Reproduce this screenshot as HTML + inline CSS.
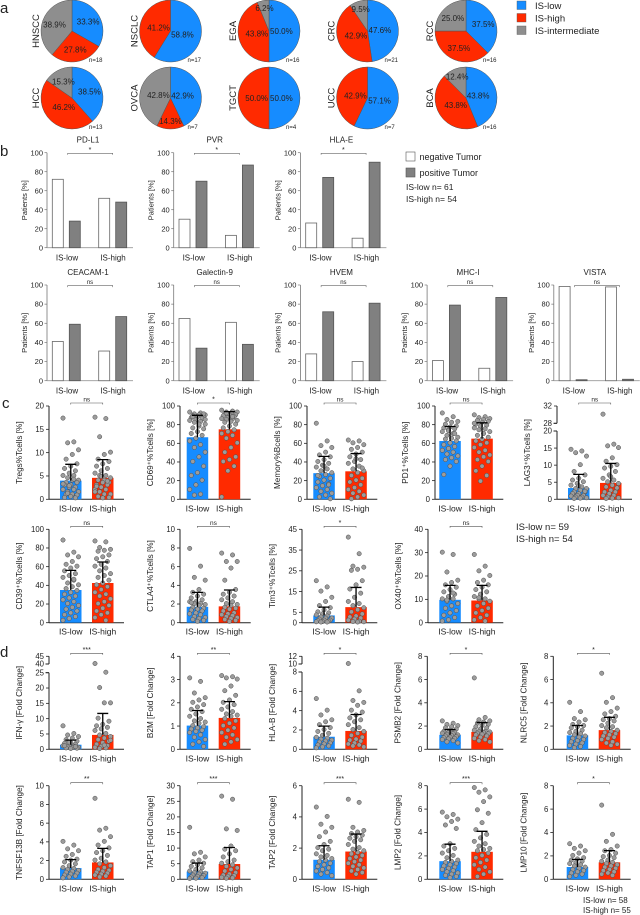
<!DOCTYPE html>
<html><head><meta charset="utf-8">
<style>
html,body{margin:0;padding:0;background:#fff;}
svg{display:block;font-family:"Liberation Sans",Arial,sans-serif;fill:#222;}
text{fill:#222;}
</style></head>
<body>
<svg id="fig" width="640" height="915" viewBox="0 0 640 915" xmlns="http://www.w3.org/2000/svg"></svg>
<script>
// ---------- Panel a data ----------
const pieNames=['HNSCC','NSCLC','EGA','CRC','RCC','HCC','OVCA','TGCT','UCC','BCA'];
const pieLow=[33.3,58.8,50.0,47.6,37.5,38.5,42.9,50.0,57.1,43.8];
const pieHigh=[27.8,41.2,43.8,42.9,37.5,46.2,14.3,50.0,42.9,43.8];
const pieInter=[38.9,0,6.2,9.5,25.0,15.3,42.8,0,0,12.4];
const pieN=[18,17,16,21,16,13,7,4,7,16];

// ---------- Panel b data ----------
const bMarkers=['PD-L1','PVR','HLA-E','CEACAM-1','Galectin-9','HVEM','MHC-I','VISTA'];
const bLowNeg=[72,30,26,41,65,28,21,98.5];
const bLowPos=[28,70,74,59,34,72,79,1];
const bHighNeg=[52,13,10,31,61,20,13,98];
const bHighPos=[48,87,90,67,38,81,87,1.5];
const bSig=['*','*','*','ns','ns','ns','ns','ns'];
const bTicks=[0,20,40,60,80,100];

// ---------- Panel c data ----------
const tregLow=[17.3,12.2,12,10.5,9.5,8.5,7.5,7,6.5,6,5.5,5,5,4.5,4,4,3.5,3.5,3,3,2.5,2.5,2,2,1.5,1.5,1,1,0.8,0.5,0.3,0.2,2.8,3.2,4.2,1.2];
const tregHigh=[17.5,17.2,13.3,10,9.5,8.5,8,7.5,7,6.5,6,5.5,5,5,4.5,4,4,3.5,3.5,3,3,2.5,2,2,1.5,1,1,0.5,0.3,0.2,2.7,3.8,4.8,1.5];
const cd69Low=[93,92,91,90,90,89,88,88,87,86,85,84,83,82,80,78,76,75,72,70,68,65,62,58,55,50,45,40,35,28,25,20,15,10,5,4,85,80,88,91];
const cd69High=[95,94,93,93,92,91,90,90,89,88,87,86,86,85,84,83,82,80,78,76,74,72,70,68,65,60,55,50,45,42,40,35,30,2,88,92];
const memLow=[81,62,57,55,50,47,45,42,40,38,36,34,32,30,28,26,24,22,20,18,16,14,12,10,8,6,4,2,0,35,25,15];
const memHigh=[63,62,60,58,55,53,50,48,45,42,40,38,35,32,30,28,25,22,20,18,15,12,10,8,6,4,2,0,33,43];
const pd1Low=[92,88,85,83,82,80,78,77,76,75,74,72,70,68,66,65,64,62,60,58,56,54,52,50,48,46,44,42,40,35,26,70,73];
const pd1High=[90,88,87,86,85,84,83,82,80,79,78,76,75,74,72,70,68,66,64,62,60,58,55,52,50,47,45,42,40,35,30,25,19,81];
const lag3Low=[14.5,14,13.5,12.5,10,8,7,6,5.5,5,4.5,4,3.5,3,3,2.5,2,2,1.5,1.5,1,1,0.8,0.5,0.5,0.3,0.2,0.1,2.2,3.8];
const lag3High=[30,16,15.5,15,12,11,10,9.5,9,8,7,6,5.5,5,4.5,4,3.5,3,2.5,2,2,1.5,1,1,0.5,0.3,0.2,0.1,3.2,6.5];
const cd39Low=[88,75,72,70,65,62,60,58,55,52,50,48,45,42,40,38,36,34,32,30,28,26,24,22,20,18,16,14,12,10,8,6,4,2,46];
const cd39High=[87,86,80,78,77,76,72,70,68,65,62,60,58,55,52,50,48,45,42,40,38,35,32,30,28,25,22,20,18,15,12,10,8,5,2];
const ctla4Low=[7.9,6,4.8,4.5,3.5,3.2,3,2.8,2.6,2.4,2.2,2.2,2,2,1.9,1.8,1.6,1.5,1.4,1.3,1.2,1,0.9,0.8,0.6,0.5,0.4,0.3,0.2,0.1,2.1];
const ctla4High=[7.4,7.2,6.5,6.5,5.8,4.5,3.5,3.2,3,2.8,2.6,2.4,2.2,2,1.9,1.8,1.6,1.5,1.4,1.2,1,0.9,0.8,0.7,0.6,0.5,0.4,0.3,0.2,0.1];
const tim3Low=[20,17,15,12,10,8,7,6,5,4.5,4,3.5,3,2.5,2,2,1.5,1,1,0.8,0.5,0.3,0.2,0.1,0.1];
const tim3High=[41,33,27,26.5,25.5,25,20,18,16,14,12,10,9,8,7,6,5,4,3,2.5,2,1.5,1,0.5,0.3,0.2,0.1];
const ox40Low=[30,29,21.5,18,17,16,15,14,13,12,11,10,10,9,8,7,6,5,4,3,2,1,0.5,12.5,9.5];
const ox40High=[29,24,22,20,18,17,16,15,14,13,12,11,10,10,9,8,7,6,5,4,3,2,1,0.5,10.5];

// ---------- Panel d data ----------
const ifnLow=[7.5,5,4.5,4,3.5,3,2.5,2,1.8,1.5,1.2,1,0.8,0.6,0.5,0.4,0.3,0.2,0.1,1,0.7,2.2];
const ifnHigh=[40,25,20,15,15,10,9,8,7.5,7,6.5,6,5,4.5,4,3.5,3,2.5,2,1.5,1,0.8,0.5,0.3,0.1,2.8,1.2];
const b2mLow=[3.05,2.9,2.4,2.2,2.1,2,1.9,1.8,1.7,1.6,1.5,1.4,1.3,1.2,1.15,1.1,1,0.95,0.9,0.85,0.8,0.75,0.7,0.6,0.5,0.4,0.3,0.2,0.1];
const b2mHigh=[3.15,3.1,3.05,3,2.7,2.5,2.3,2.1,2,1.9,1.8,1.7,1.6,1.5,1.45,1.4,1.3,1.2,1.1,1,0.9,0.8,0.7,0.6,0.5,0.4,0.3,0.2];
const hlabLow=[5.2,4,3.5,3,2.8,2.5,2.2,2,1.8,1.6,1.4,1.2,1.1,1,0.9,0.8,0.7,0.6,0.5,0.4,0.3,0.2,0.1];
const hlabHigh=[10,6,5,4.8,4.5,4,3.8,3.5,3.2,3,2.8,2.5,2.2,2,1.8,1.6,1.4,1.2,1,0.9,0.8,0.6,0.5,0.4,0.3,0.2];
const psmb2Low=[2.4,2.2,2.1,2,1.9,1.8,1.7,1.6,1.5,1.45,1.4,1.35,1.3,1.25,1.2,1.15,1.1,1.05,1,0.95,0.9,0.85,0.8,0.7,0.6,0.5];
const psmb2High=[6.1,2.7,2.5,2.4,2.3,2.2,2.1,2,1.9,1.8,1.7,1.6,1.5,1.5,1.45,1.4,1.35,1.3,1.25,1.2,1.1,1,0.9,0.8,0.7,0.6];
const nlrc5Low=[4,3.2,2.6,2.5,2.3,2.1,2,1.9,1.8,1.6,1.5,1.4,1.3,1.2,1.1,1,0.9,0.8,0.7,0.6,0.5,0.4,0.3,0.2,0.1];
const nlrc5High=[6.5,4.4,4,3.5,3.2,3,2.8,2.6,2.5,2.4,2.2,2,1.9,1.8,1.6,1.5,1.4,1.3,1.2,1.1,1,0.9,0.8,0.6,0.5,0.4,0.3];
const tnfLow=[4,3.6,3.2,3,2.6,2.4,2.1,2,1.8,1.6,1.4,1.2,1.1,1,0.9,0.8,0.7,0.6,0.5,0.4,0.3,0.2,0.1];
const tnfHigh=[8.6,5.4,5.2,4.5,4,3.6,3.3,3,2.8,2.5,2.2,2,1.8,1.6,1.4,1.2,1,0.9,0.8,0.7,0.6,0.5,0.4,0.3,0.2];
const tap1Low=[16.5,8.5,8,7,6,5.5,5,4.5,4,3.5,3,2.5,2.2,2,1.8,1.5,1.2,1,0.8,0.6,0.4,0.2,0.1];
const tap1High=[26.5,25.5,16,15.5,10.5,9.5,9,8,7,6,5.5,5,4.5,4,3.5,3,2.5,2,1.5,1.2,1,0.8,0.5,0.3,0.2];
const tap2Low=[4.6,4,3.5,3.3,3,2.7,2.4,2.2,2,1.9,1.8,1.6,1.5,1.4,1.3,1.2,1.1,1,0.9,0.8,0.7,0.6,0.5,0.4,0.3,0.2];
const tap2High=[5.1,4.9,3.3,3.1,3,2.9,2.8,2.7,2.6,2.5,2.4,2.2,2,1.9,1.8,1.7,1.6,1.5,1.4,1.3,1.2,1.1,1,0.9,0.8,0.7,0.6,0.5,0.4,0.3];
const lmp2Low=[5.7,5.5,5.3,5.1,4.9,4.6,4.3,3,2.8,2.6,2.4,2.2,2,1.8,1.6,1.5,1.4,1.3,1.2,1.1,1,0.9,0.8,0.7,0.6,0.5,0.4,0.3,0.2,0.1];
const lmp2High=[7.8,7.6,7.4,7,6.6,5.9,5.6,4.8,4.2,3.8,3.5,3.2,3,2.8,2.6,2.5,2.4,2.2,2,1.8,1.6,1.4,1.2,1,0.8,0.6,0.4,0.2];
const lmp10Low=[3,2.8,2.6,2.4,2.2,2,1.8,1.7,1.6,1.5,1.4,1.3,1.2,1.1,1,0.9,0.8,0.7,0.6,0.5,0.4,0.3,0.2];
const lmp10High=[6.3,3.8,3.2,2.8,2.5,2.4,2.2,2,1.9,1.8,1.6,1.5,1.4,1.3,1.2,1.1,1,0.9,0.8,0.7,0.6,0.5,0.4,0.3];

// bar means and upper error (SD) per chart: [lowMean, lowErr, highMean, highErr]
const cMeansLow=[4.0,66.5,28,62.5,3.3,35,1.7,3.5,9.8];
const cErrLow=[7.5,90,46,78,7.3,56,3.25,7.5,16];
const cMeansHigh=[4.6,75,30,65,4.8,42.5,1.75,7.5,9.5];
const cErrHigh=[8.5,94,49,82,10.5,65,3.5,17,16];
const cSig=['ns','*','ns','ns','ns','ns','ns','*','ns'];
const dMeansLow=[1.5,1.02,1.3,1.25,1.2,1.2,2.5,1.25,1.55,1.05];
const dErrLow=[3,1.67,2.4,1.7,2.05,2.1,5.2,2.15,3.0,1.7];
const dMeansHigh=[4.7,1.35,1.9,1.5,1.65,1.8,4.9,1.78,2.35,1.45];
const dErrHigh=[11.7,2.05,3.6,2.3,2.75,3.3,10.2,2.9,4.1,2.45];
const dSig=['***','**','*','*','*','**','***','***','***','*'];

const BLUE='#168cff', RED='#ff2a00', PGRAY='#8e8e8e';
const NS='http://www.w3.org/2000/svg';
const svg=document.getElementById('fig');
function mk(tag,attrs,parent){const e=document.createElementNS(NS,tag);for(const k in attrs)e.setAttribute(k,attrs[k]);(parent||svg).appendChild(e);return e;}
function tx(x,y,s,size,anchor,parent){const t=mk('text',{x:x,y:y,'font-size':size,'text-anchor':anchor||'start'},parent);t.textContent=s;return t;}

// panel letters
[['a',0,13],['b',0,156],['c',2,408],['d',0,657]].forEach(p=>{
  const t=tx(p[1],p[2],p[0],15,'start');
  
  
});

// ---------- Panel a: pies ----------
function pt(cx,cy,r,deg){const a=deg*Math.PI/180;return [cx+r*Math.sin(a),cy-r*Math.cos(a)];}
pieNames.forEach((name,i)=>{
  const col=i%5,row=Math.floor(i/5);
  const cx=72+98.5*col, cy=31+67*row, r=31;
  const g=mk('g',{});
  
  
  const vals=[pieLow[i],pieHigh[i],pieInter[i]], cols=[BLUE,RED,PGRAY];
  let start=0;
  vals.forEach((v,k)=>{
    if(v<=0)return;
    const end=start+v/100*360;
    const p0=pt(cx,cy,r,start),p1=pt(cx,cy,r,end);
    const large=(end-start)>180?1:0;
    const path=mk('path',{d:`M${cx},${cy}L${p0[0]},${p0[1]}A${r},${r} 0 ${large} 1 ${p1[0]},${p1[1]}Z`,fill:cols[k],stroke:'#555','stroke-width':0.5},g);
    
    
    const mid=(start+end)/2, kf=v<15?0.75:(v<40?0.6:0.4);
    const lp=pt(cx,cy,r*kf,mid);
    const t=tx(lp[0],lp[1]+3,v.toFixed(1)+'%',8,'middle',g);
    
    
    start=end;
  });
  const nl=tx(cx+17,cy+31,'n='+pieN[i],6,'start',g);
  
  
  const lab=tx(0,0,name,9.5,'middle',g);
  lab.setAttribute('transform',`translate(${cx-33},${cy}) rotate(-90)`);
  
  
});
[['IS-low',BLUE,1],['IS-high',RED,13.5],['IS-intermediate',PGRAY,26]].forEach(l=>{
  const r=mk('rect',{x:517,y:l[2],width:9,height:8.5,fill:l[1],stroke:'#555','stroke-width':0.4});
  
  
  const t=tx(535,l[2]+8,l[0],9.5,'start');
  
  
});

// ---------- Panel b: bar charts ----------
bMarkers.forEach((m,i)=>{
  const row=i<3?0:1, col=row===0?i:i-3;
  const ax=47+126.7*col, top=row===0?152.7:285, y0=row===0?247.7:380.7;
  const ys=v=>y0-(v/100)*(y0-top);
  const g=mk('g',{});
  
  
  mk('line',{x1:ax,y1:top,x2:ax,y2:y0,stroke:'#777','stroke-width':0.8},g);
  mk('line',{x1:ax,y1:y0,x2:ax+86,y2:y0,stroke:'#999','stroke-width':0.8},g);
  bTicks.forEach(t=>{
    mk('line',{x1:ax-2.5,y1:ys(t),x2:ax,y2:ys(t),stroke:'#777','stroke-width':0.7},g);
    const tl=tx(ax-4,ys(t)+2.6,String(t),7.5,'end',g);
    
    
  });
  const bars=[[5.3,bLowNeg[i],'#fff'],[22.3,bLowPos[i],'#808080'],[51.7,bHighNeg[i],'#fff'],[68.7,bHighPos[i],'#808080']];
  bars.forEach(b=>{
    const r=mk('rect',{x:ax+b[0],y:ys(b[1]),width:11,height:y0-ys(b[1]),fill:b[2],stroke:b[2]==='#fff'?'#666':'#555','stroke-width':0.8},g);
    
    
  });
  const t1=tx(ax+20,y0+13,'IS-low',8,'middle',g);
  
  
  const t2=tx(ax+66,y0+13,'IS-high',8,'middle',g);
  
  
  const tt=tx(ax+41,top-10,m,8,'middle',g);
  
  
  const by=top+0.6;
  mk('path',{d:`M${ax+20.7},${by+1.5}V${by}H${ax+65.7}V${by+1.5}`,fill:'none',stroke:'#666','stroke-width':0.6},g);
  const st=tx(ax+43,by-1.5,bSig[i],bSig[i]==='*'?7:6,'middle',g);
  
  
  const yl=tx(0,0,'Patients [%]',7.5,'middle',g);
  yl.setAttribute('transform',`translate(${ax-20},${(top+y0)/2}) rotate(-90)`);
  
  
});
[['#fff',152],['#808080',168]].forEach((s,k)=>{
  const r=mk('rect',{x:406,y:s[1],width:9,height:9,fill:s[0],stroke:'#555','stroke-width':0.6});
  
  
  const t=tx(419.5,s[1]+8,k===0?'negative Tumor':'positive Tumor',9,'start');
  
  
});
[['IS-low  n= 61',190],['IS-high  n= 54',202]].forEach(s=>{
  const t=tx(406,s[1],s[0],8.5,'start');
  
  
});

// ---------- scatter-bar chart function (panels c, d) ----------
function scatterChart(c){
  const segs=c.segs;
  const ys=v=>{
    for(const s of segs){if(v>=s.d0&&v<=s.d1)return s.p0+(v-s.d0)/(s.d1-s.d0)*(s.p1-s.p0);}
    if(v<segs[0].d0)return segs[0].p0;
    for(let k=segs.length-1;k>=0;k--){if(v>segs[k].d1&&k===segs.length-1)return segs[k].p1;if(v>segs[k].d1)return segs[k].p1;}
    return segs[0].p0;
  };
  const g=mk('g',{});
  
  
  const ax=c.ax, bl=c.bl, y0=segs[0].p0, top=segs[segs.length-1].p1;
  segs.forEach(s=>{mk('line',{x1:ax,y1:s.p0,x2:ax,y2:s.p1,stroke:'#222','stroke-width':1},g);});
  for(let k=1;k<segs.length;k++){
    mk('line',{x1:ax-3.5,y1:segs[k-1].p1,x2:ax,y2:segs[k-1].p1,stroke:'#222','stroke-width':1},g);
    mk('line',{x1:ax-3.5,y1:segs[k].p0,x2:ax,y2:segs[k].p0,stroke:'#222','stroke-width':1},g);
  }
  mk('line',{x1:ax,y1:y0,x2:bl+64,y2:y0,stroke:'#222','stroke-width':1},g);
  c.ticks.forEach(t=>{
    mk('line',{x1:ax-3,y1:ys(t),x2:ax,y2:ys(t),stroke:'#222','stroke-width':0.8},g);
    const tl=tx(ax-5,ys(t)+2.7,String(t),7.8,'end',g);
    
    
  });
  const groups=[[bl,c.mL,c.eL,c.low,BLUE,'bar-is-low'],[bl+32,c.mH,c.eH,c.high,RED,'bar-is-high']];
  groups.forEach(gr=>{
    const r=mk('rect',{x:gr[0],y:ys(gr[1]),width:21.5,height:y0-ys(gr[1]),fill:gr[4]},g);
    
    
  });
  groups.forEach(gr=>{
    const cx=gr[0]+10.75;
    gr[3].forEach((v,i)=>{
      const dx=((i*7)%11-5)*1.55;
      const d=mk('circle',{cx:cx+dx,cy:ys(v)-0.5,r:2.2,fill:'#9c9c9c',stroke:'#4d4d4d','stroke-width':0.5},g);
      
      
    });
  });
  groups.forEach(gr=>{
    const cx=gr[0]+10.75;
    const e=mk('path',{d:`M${cx},${ys(gr[1])}V${ys(gr[2])}M${cx-5.5},${ys(gr[2])}H${cx+5.5}`,stroke:'#000','stroke-width':1.3,fill:'none'},g);
    
    
  });
  const t1=tx(bl+10.75,y0+12,'IS-low',8.5,'middle',g);
  
  
  const t2=tx(bl+42.75,y0+12,'IS-high',8.5,'middle',g);
  
  
  const by=top-3;
  mk('path',{d:`M${bl+10.75},${by+1.5}V${by}H${bl+42.75}V${by+1.5}`,fill:'none',stroke:'#555','stroke-width':0.6},g);
  const st=tx(bl+26.75,by-1.5,c.sig,c.sig==='ns'?6.5:7,'middle',g);
  
  
  const yl=tx(0,0,c.label,8.2,'middle',g);
  yl.setAttribute('transform',`translate(${ax-27},${(top+y0)/2}) rotate(-90)`);
  
  
}
function lin(max,y0,top){return [{d0:0,d1:max,p0:y0,p1:top}];}

// panel c
const cR1=[406,499.3], cR2=[529.3,622.7];
const cCharts=[
 {id:'tregs',label:'Tregs%Tcells [%]',ax:49,bl:60,segs:lin(20,cR1[1],cR1[0]),ticks:[0,5,10,15,20],low:tregLow,high:tregHigh},
 {id:'cd69',label:'CD69\u207A%Tcells [%]',ax:180,bl:186.7,segs:lin(100,cR1[1],cR1[0]),ticks:[0,20,40,60,80,100],low:cd69Low,high:cd69High},
 {id:'memory',label:'Memory%Bcells [%]',ax:307,bl:313.3,segs:lin(100,cR1[1],cR1[0]),ticks:[0,20,40,60,80,100],low:memLow,high:memHigh},
 {id:'pd1',label:'PD1\u207A%Tcells [%]',ax:435,bl:439.3,segs:lin(100,cR1[1],cR1[0]),ticks:[0,20,40,60,80,100],low:pd1Low,high:pd1High},
 {id:'lag3',label:'LAG3\u207A%Tcells [%]',ax:557,bl:568,segs:[{d0:0,d1:20,p0:cR1[1],p1:431},{d0:28,d1:32,p0:423.3,p1:cR1[0]}],ticks:[0,5,10,15,20,28,32],low:lag3Low,high:lag3High},
 {id:'cd39',label:'CD39\u207A%Tcells [%]',ax:49,bl:60,segs:lin(100,cR2[1],cR2[0]),ticks:[0,20,40,60,80,100],low:cd39Low,high:cd39High},
 {id:'ctla4',label:'CTLA4\u207A%Tcells [%]',ax:180,bl:186.7,segs:lin(10,cR2[1],cR2[0]),ticks:[0,2,4,6,8,10],low:ctla4Low,high:ctla4High},
 {id:'tim3',label:'Tim3\u207A%Tcells [%]',ax:302,bl:313.3,segs:lin(45,cR2[1],cR2[0]),ticks:[0,5,15,25,35,45],low:tim3Low,high:tim3High},
 {id:'ox40',label:'OX40\u207A%Tcells [%]',ax:428,bl:439.3,segs:lin(40,cR2[1],cR2[0]),ticks:[0,10,20,30,40],low:ox40Low,high:ox40High}
];
cCharts.forEach((c,i)=>{c.mL=cMeansLow[i];c.eL=cErrLow[i];c.mH=cMeansHigh[i];c.eH=cErrHigh[i];c.sig=cSig[i];scatterChart(c);});
[['IS-low n= 59',530],['IS-high n= 54',542]].forEach(s=>{
  const t=tx(516,s[1],s[0],9.5,'start');
  
  
});

// panel d
const dR1=[656.3,749.3], dR2=[785.7,879.3];
const dCharts=[
 {id:'ifng',label:'IFN-\u03B3 [Fold Change]',ax:49,bl:60,segs:[{d0:0,d1:25,p0:dR1[1],p1:672.7},{d0:40,d1:45,p0:664,p1:dR1[0]}],ticks:[0,5,10,15,20,25,40,45],low:ifnLow,high:ifnHigh},
 {id:'b2m',label:'B2M [Fold Change]',ax:180,bl:186.7,segs:lin(4,dR1[1],dR1[0]),ticks:[0,1,2,3,4],low:b2mLow,high:b2mHigh},
 {id:'hlab',label:'HLA-B [Fold Change]',ax:302,bl:313.3,segs:[{d0:0,d1:8,p0:dR1[1],p1:672},{d0:10,d1:12,p0:664,p1:dR1[0]}],ticks:[0,2,4,6,8,10,12],low:hlabLow,high:hlabHigh},
 {id:'psmb2',label:'PSMB2 [Fold Change]',ax:427.3,bl:439.3,segs:lin(8,dR1[1],dR1[0]),ticks:[0,2,4,6,8],low:psmb2Low,high:psmb2High},
 {id:'nlrc5',label:'NLRC5 [Fold Change]',ax:553.3,bl:566.7,segs:lin(8,dR1[1],dR1[0]),ticks:[0,2,4,6,8],low:nlrc5Low,high:nlrc5High},
 {id:'tnfsf13b',label:'TNFSF13B [Fold Change]',ax:49,bl:60,segs:lin(10,dR2[1],dR2[0]),ticks:[0,2,4,6,8,10],low:tnfLow,high:tnfHigh},
 {id:'tap1',label:'TAP1 [Fold Change]',ax:180,bl:186.7,segs:lin(30,dR2[1],dR2[0]),ticks:[0,5,10,15,20,25,30],low:tap1Low,high:tap1High},
 {id:'tap2',label:'TAP2 [Fold Change]',ax:302,bl:313.3,segs:lin(6,dR2[1],dR2[0]),ticks:[0,2,4,6],low:tap2Low,high:tap2High},
 {id:'lmp2',label:'LMP2 [Fold Change]',ax:427.3,bl:439.3,segs:lin(8,dR2[1],dR2[0]),ticks:[0,2,4,6,8],low:lmp2Low,high:lmp2High},
 {id:'lmp10',label:'LMP10 [Fold Change]',ax:553.3,bl:566.7,segs:lin(8,dR2[1],dR2[0]),ticks:[0,2,4,6,8],low:lmp10Low,high:lmp10High}
];
dCharts.forEach((c,i)=>{c.mL=dMeansLow[i];c.eL=dErrLow[i];c.mH=dMeansHigh[i];c.eH=dErrHigh[i];c.sig=dSig[i];scatterChart(c);});
[['IS-low n= 58',903],['IS-high n= 55',913]].forEach(s=>{
  const t=tx(583,s[1],s[0],8,'start');
  
  
});
</script>
</body></html>
